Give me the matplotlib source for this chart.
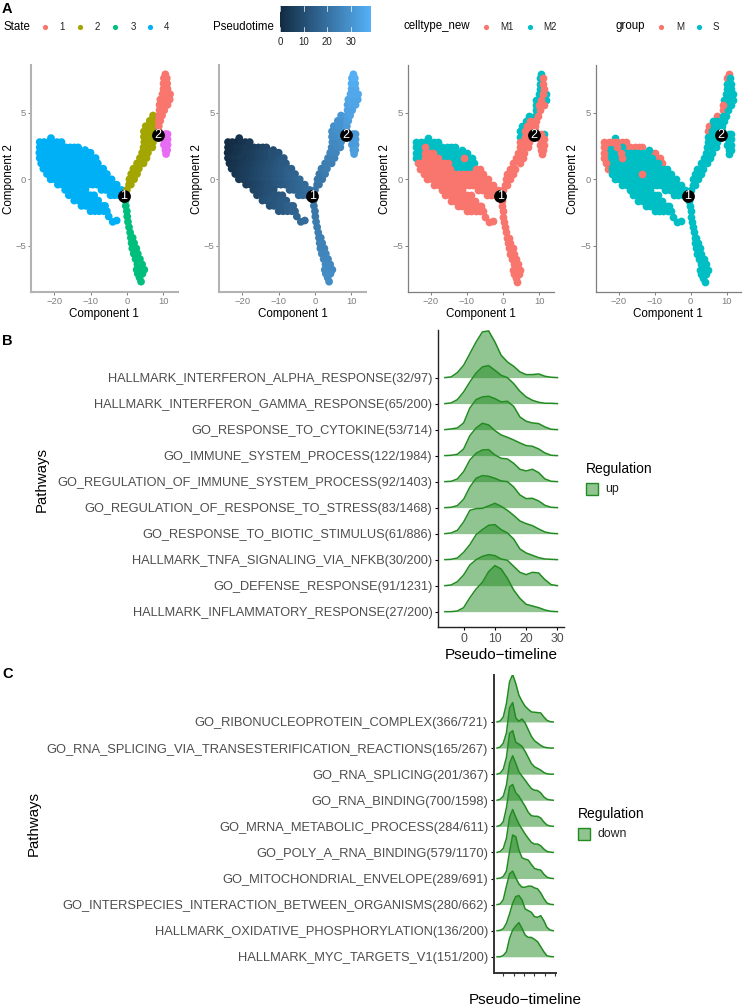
import numpy as np
import matplotlib
matplotlib.use("Agg")
import matplotlib.pyplot as plt
from matplotlib.colors import LinearSegmentedColormap
from matplotlib.patches import Rectangle

plt.rcParams['font.family'] = ['Liberation Sans', 'DejaVu Sans']

W, H = 743, 1007

# ---- trajectory cells, one list per state, written row by row
# cell: 0 = M1, 1 = M2.  group: 0 = M (under S), 1 = S, 2 = M (over S)
comp1_s4 = [-20.9,
    -24, -22.8, -21.6, -20.4, -19.2, -18,
    -24, -22.8, -21.6, -20.4, -19.2, -18, -16.8, -15.6, -14.4, -13.4, -11.5,
    -24.1, -22.9, -21.7, -20.5, -19.3, -18.1, -16.9, -15.7, -14.5, -13.3, -12.1, -10.9, -10,
    -24, -22.8, -21.6, -20.4, -19.2, -18, -16.8, -15.6, -14.4, -13.2, -12, -10.8, -9.6, -8.6,
    -23.6, -22.4, -21.2, -20, -18.8, -17.6, -16.4, -15.2, -14, -12.8, -11.6, -10.4, -9.2, -8,
    -23, -21.8, -20.6, -19.4, -18.2, -17, -15.8, -14.6, -13.4, -12.2, -11, -9.8, -8.6, -7.4, -6.5,
    -22, -20.8, -19.6, -18.4, -17.2, -16, -14.8, -13.6, -12.4, -11.2, -10, -8.8, -7.6, -6.4, -5.5,
    -21, -19.8, -18.6, -17.4, -16.2, -15, -13.8, -12.6, -11.4, -10.2, -9, -7.8, -6.6, -5.4, -4.2,
    -19, -17.8, -16.6, -15.4, -14.2, -13, -11.8, -10.6, -9.4, -8.2, -7, -5.8, -4.6, -3.6, -2.8,
    -17, -15.8, -14.6, -13.4, -12.2, -11.4, -7, -5.8, -4.6, -3.4, -2.2, -1.5,
    -16, -14.8, -13.6, -12.4, -11.2, -10, -9, -4.5, -3.4, -2.2, -1.2,
    -14.5, -13.3, -12.1, -10.9, -9.7, -8.5, -7.9,
    -12.5, -11.3, -10.1, -8.9, -7.7, -6.5, -6,
    -10, -8.8, -7.6, -6.4, -5.5,
    -5, -3.9, -2.8]
comp2_s4 = [3.1,
    2.8, 2.8, 2.8, 2.8, 2.8, 2.8,
    2.4, 2.4, 2.4, 2.4, 2.4, 2.4, 2.4, 2.4, 2.4, 2.4, 2.2,
    2, 2, 2, 2, 2, 2, 2, 2, 2, 2, 2, 2, 2,
    1.6, 1.6, 1.6, 1.6, 1.6, 1.6, 1.6, 1.6, 1.6, 1.6, 1.6, 1.6, 1.6, 1.6,
    1.2, 1.2, 1.2, 1.2, 1.2, 1.2, 1.2, 1.2, 1.2, 1.2, 1.2, 1.2, 1.2, 1.2,
    .8, .8, .8, .8, .8, .8, .8, .8, .8, .8, .8, .8, .8, .8, .8,
    .4, .4, .4, .4, .4, .4, .4, .4, .4, .4, .4, .4, .4, .4, .4,
    0, 0, 0, 0, 0, 0, 0, 0, 0, 0, 0, 0, 0, 0, 0,
    -.4, -.4, -.4, -.4, -.4, -.4, -.4, -.4, -.4, -.4, -.4, -.4, -.4, -.4, -.4,
    -.8, -.8, -.8, -.8, -.8, -.8, -.8, -.8, -.8, -.8, -.8, -.8,
    -1.2, -1.2, -1.2, -1.2, -1.2, -1.2, -1.2, -1.2, -1.2, -1.2, -1.2,
    -1.6, -1.6, -1.6, -1.6, -1.6, -1.6, -1.6,
    -2, -2, -2, -2, -2, -2, -2,
    -2.4, -2.4, -2.4, -2.4, -2.4,
    -2.8, -3.2, -3.1]
time_s4 = [2,
    0, 1, 1, 2, 3, 4,
    0, 1, 2, 3, 4, 4, 5, 6, 7, 8, 9,
    0, 1, 2, 3, 4, 5, 6, 7, 8, 9, 10, 10, 11,
    1, 2, 3, 4, 4, 5, 6, 7, 8, 9, 10, 11, 12, 13,
    1, 2, 3, 4, 5, 6, 7, 8, 9, 10, 11, 12, 13, 14,
    2, 3, 4, 5, 6, 7, 8, 9, 10, 11, 12, 13, 14, 15, 15,
    3, 4, 5, 6, 7, 8, 9, 10, 11, 12, 13, 14, 15, 16, 16,
    4, 5, 6, 7, 8, 9, 10, 11, 12, 13, 14, 15, 16, 17, 18,
    5, 6, 7, 8, 9, 10, 11, 12, 13, 14, 15, 16, 17, 18, 18,
    7, 8, 9, 10, 11, 11, 15, 16, 17, 18, 19, 19,
    8, 9, 10, 11, 12, 12, 13, 17, 18, 19, 20,
    10, 11, 12, 12, 13, 14, 14,
    11, 12, 13, 14, 15, 15, 16,
    13, 14, 15, 16, 16,
    17, 18, 19]
cell_s4 = [1,
    1, 1, 1, 1, 1, 1,
    1, 1, 0, 1, 1, 1, 1, 1, 1, 1, 1,
    1, 1, 0, 0, 0, 1, 1, 1, 1, 1, 1, 1, 1,
    1, 1, 0, 0, 0, 0, 1, 1, 1, 1, 1, 0, 1, 1,
    0, 0, 0, 0, 0, 0, 0, 0, 1, 1, 1, 1, 1, 1,
    0, 0, 0, 0, 0, 0, 0, 0, 1, 1, 1, 1, 1, 0, 0,
    0, 0, 0, 0, 0, 0, 0, 0, 0, 0, 0, 0, 0, 0, 0,
    0, 0, 0, 0, 0, 0, 0, 0, 0, 0, 0, 0, 0, 0, 0,
    0, 0, 0, 0, 0, 0, 0, 0, 0, 0, 0, 0, 0, 0, 0,
    0, 0, 0, 0, 0, 0, 0, 0, 0, 0, 0, 0,
    0, 0, 0, 0, 0, 0, 0, 0, 0, 0, 0,
    0, 0, 0, 0, 0, 0, 0,
    0, 0, 0, 0, 0, 0, 0,
    0, 0, 0, 0, 0,
    0, 0, 0]
group_s4 = [1,
    2, 2, 2, 2, 0, 0,
    2, 1, 1, 2, 1, 0, 0, 0, 0, 0, 1,
    2, 1, 1, 1, 2, 1, 1, 1, 1, 1, 1, 0, 0,
    2, 1, 1, 1, 2, 1, 1, 1, 1, 1, 1, 1, 0, 0,
    2, 1, 1, 1, 1, 1, 1, 1, 1, 1, 1, 1, 1, 0,
    0, 1, 1, 1, 1, 1, 1, 1, 1, 1, 1, 1, 1, 1, 1,
    1, 1, 1, 1, 1, 1, 1, 2, 1, 1, 1, 1, 1, 1, 1,
    1, 1, 1, 1, 1, 1, 1, 1, 1, 1, 1, 1, 1, 1, 1,
    1, 1, 1, 1, 1, 1, 1, 1, 1, 1, 1, 1, 1, 1, 1,
    1, 1, 1, 1, 1, 1, 1, 1, 1, 1, 1, 1,
    1, 1, 1, 1, 1, 1, 1, 1, 1, 1, 1,
    1, 1, 1, 1, 1, 1, 1,
    1, 1, 1, 1, 1, 1, 1,
    1, 1, 1, 1, 1,
    1, 1, 1]

comp1_s2 = [0, .6, 1.1, .7, 2, 1.2, 2.8, 1.8, 3.3, 2.8, 4.6, 3.6, 5.4, 4.2, 5.8, 4.6, 6, 7, 4.8, 6, 7.2,
            4.7, 6, 7.3, 4.7, 6, 7.3, 5.2, 6.5, 7.3, 6.3, 7.4, 7.2]
comp2_s2 = [-.8, -.4, -.4, 0, 0, .4, .4, .8, .8, 1.2, 1.2, 1.6, 1.6, 2, 2, 2.4, 2.4, 2.4, 2.8, 2.8, 2.8,
            3.2, 3.2, 3.2, 3.6, 3.6, 3.6, 4, 4, 4, 4.4, 4.4, 4.8]
time_s2 = [21, 21, 21, 22, 22, 22, 23, 23, 24, 24, 24, 25, 25, 26, 26, 26, 27, 27, 27, 27, 28,
           28, 28, 29, 28, 29, 29, 29, 30, 30, 30, 30, 31]
cell_s2 = [0, 0, 0, 0, 0, 0, 0, 0, 0, 0, 0, 0, 0, 0, 0, 0, 0, 0, 0, 0, 0,
           1, 0, 0, 1, 0, 0, 1, 0, 0, 1, 0, 1]
group_s2 = [1, 1, 1, 1, 1, 1, 1, 1, 1, 1, 1, 1, 1, 1, 1, 1, 1, 1, 1, 1, 1,
            1, 1, 1, 0, 1, 1, 0, 1, 1, 1, 1, 0]

comp1_s1 = [8.8, 8.8, 8.8, 9.2, 8.9, 9.7, 9, 10.3, 9, 10, 11.2, 9.2, 10.4, 11.8, 9.8, 11, 11.9,
            10.1, 11.2, 10.1, 11.1, 10.2, 11, 10.6]
comp2_s1 = [3.6, 4, 4.4, 4.4, 4.8, 4.8, 5.2, 5.2, 5.6, 5.6, 5.6, 6, 6, 6, 6.4, 6.4, 6.4,
            6.8, 6.8, 7.2, 7.2, 7.6, 7.6, 7.9]
time_s1 = [32, 32, 33, 33, 33, 34, 34, 34, 34, 35, 35, 35, 35, 35, 36, 36, 36,
           36, 36, 37, 37, 37, 38, 38]
cell_s1 = [0, 0, 0, 0, 1, 0, 1, 0, 1, 0, 0, 1, 0, 1, 1, 0, 1,
           1, 0, 1, 0, 1, 0, 1]
group_s1 = [1, 1, 1, 1, 1, 1, 0, 1, 2, 1, 1, 1, 1, 1, 1, 1, 1,
            1, 1, 1, 1, 0, 1, 0]

comp1_s5 = [10.6, 11.2, 10.3, 11.2, 10.2, 11.2, 10.6, 11.1, 10.8]
comp2_s5 = [3.4, 3.4, 3, 3, 2.6, 2.6, 2.2, 2.2, 1.9]
time_s5 = [31, 31, 31, 32, 32, 32, 32, 33, 33]
cell_s5 = [0, 1, 0, 0, 0, 0, 0, 0, 0]
group_s5 = [1, 1, 1, 1, 1, 1, 1, 1, 1]

comp1_s3 = [-.4, -.3, 0, .1, .3, .6, .9, 1.1, 1.6, 1.3, 2, 1.5, 2.6, 1.9, 3, 2.4, 3.6, 2.9, 4.2,
            2.7, 3.8, 4.8, 3, 4.3, 3.5, 3.9]
comp2_s3 = [-1.6, -2, -2.4, -2.8, -3.2, -3.6, -4, -4.4, -4.4, -4.8, -4.8, -5.2, -5.2, -5.6, -5.6,
            -6, -6, -6.4, -6.4, -6.8, -6.8, -6.8, -7.1, -7.1, -7.4, -7.7]
time_s3 = [21, 21, 22, 22, 23, 23, 24, 24, 24, 25, 25, 25, 25, 26, 26, 26, 26, 27, 27,
           27, 27, 27, 28, 28, 28, 28]
cell_s3 = [0] * 26
group_s3 = [1, 1, 1, 1, 1, 1, 1, 1, 1, 1, 1, 1, 1, 1, 1, 1, 1, 1, 1, 1, 1, 1, 1, 1, 1, 1]

state_names = ['1', '2', '3', '4']
state_colors = {'1': '#F8766D', '2': '#A3A500', '3': '#00BF7D', '4': '#00B0F6', '5': '#E76BF3'}
celltype_names = ['M1', 'M2']
group_names = ['M', 'S']
time_ticks = [0, 10, 20, 30]
time_max = 38.6
node_names = ['1', '2']
node_comp1 = [-0.8, 8.5]
node_comp2 = [-1.23, 3.33]

# ---- ridge panels
pathways_up = ['HALLMARK_INTERFERON_ALPHA_RESPONSE(32/97)', 'HALLMARK_INTERFERON_GAMMA_RESPONSE(65/200)',
               'GO_RESPONSE_TO_CYTOKINE(53/714)', 'GO_IMMUNE_SYSTEM_PROCESS(122/1984)',
               'GO_REGULATION_OF_IMMUNE_SYSTEM_PROCESS(92/1403)', 'GO_REGULATION_OF_RESPONSE_TO_STRESS(83/1468)',
               'GO_RESPONSE_TO_BIOTIC_STIMULUS(61/886)', 'HALLMARK_TNFA_SIGNALING_VIA_NFKB(30/200)',
               'GO_DEFENSE_RESPONSE(91/1231)', 'HALLMARK_INFLAMMATORY_RESPONSE(27/200)']
time_up = [-6, -4, -2, 0, 2, 4, 6, 8, 10, 12, 14, 16, 18, 20, 22, 24, 26, 28, 30]
density_up = [
    [0, 2, 15, 37, 72, 107, 137, 140, 107, 67, 47, 34, 17, 9, 9, 11, 4, 1, 0],
    [0, 2, 12, 35, 65, 92, 110, 114, 100, 85, 78, 60, 37, 20, 10, 4, 1, 1, 0],
    [0, 2, 5, 20, 65, 90, 98, 100, 93, 83, 85, 70, 38, 25, 20, 18, 8, 1, 0],
    [0, 1, 4, 20, 60, 83, 97, 92, 75, 62, 55, 47, 38, 30, 28, 20, 8, 1, 0],
    [0, 1, 8, 30, 65, 85, 95, 96, 80, 70, 68, 55, 37, 32, 37, 27, 8, 1, 0],
    [0, 1, 6, 25, 62, 88, 96, 94, 88, 80, 78, 62, 38, 27, 28, 20, 7, 1, 0],
    [0, 2, 10, 35, 70, 75, 76, 83, 91, 82, 70, 55, 38, 30, 24, 14, 5, 1, 0],
    [0, 1, 5, 22, 45, 75, 90, 103, 105, 90, 80, 62, 32, 20, 13, 6, 2, 1, 0],
    [0, 2, 12, 32, 62, 78, 88, 93, 90, 80, 76, 58, 40, 33, 40, 38, 18, 3, 0],
    [0, 0, 2, 12, 42, 68, 88, 120, 138, 128, 100, 65, 40, 22, 17, 12, 5, 1, 0],
]
pathways_down = ['GO_RIBONUCLEOPROTEIN_COMPLEX(366/721)', 'GO_RNA_SPLICING_VIA_TRANSESTERIFICATION_REACTIONS(165/267)',
                 'GO_RNA_SPLICING(201/367)', 'GO_RNA_BINDING(700/1598)', 'GO_MRNA_METABOLIC_PROCESS(284/611)',
                 'GO_POLY_A_RNA_BINDING(579/1170)', 'GO_MITOCHONDRIAL_ENVELOPE(289/691)',
                 'GO_INTERSPECIES_INTERACTION_BETWEEN_ORGANISMS(280/662)', 'HALLMARK_OXIDATIVE_PHOSPHORYLATION(136/200)',
                 'HALLMARK_MYC_TARGETS_V1(151/200)']
time_down = [-6, -3, 0, 3, 6, 9, 12, 15, 18, 21, 24, 27, 30, 33, 36, 39, 42, 45, 48]
density_down = [
    [0, 3, 15, 55, 120, 142, 115, 80, 62, 47, 38, 30, 29, 28, 27, 15, 5, 1, 0],
    [0, 3, 15, 45, 120, 136, 90, 80, 87, 75, 55, 35, 22, 15, 8, 3, 1, 0, 0],
    [0, 3, 15, 50, 122, 130, 95, 90, 83, 68, 50, 32, 22, 17, 12, 5, 1, 0, 0],
    [0, 3, 12, 45, 110, 133, 110, 85, 72, 60, 47, 35, 30, 29, 22, 10, 3, 1, 0],
    [0, 3, 14, 55, 118, 125, 100, 90, 75, 60, 42, 32, 30, 30, 25, 13, 4, 1, 0],
    [0, 3, 12, 42, 105, 128, 105, 85, 70, 55, 42, 30, 25, 25, 20, 10, 3, 1, 0],
    [0, 1, 6, 22, 80, 130, 125, 85, 62, 58, 55, 42, 30, 27, 25, 13, 4, 1, 0],
    [0, 2, 15, 55, 92, 100, 80, 62, 52, 52, 55, 55, 50, 47, 35, 18, 5, 1, 0],
    [0, 1, 6, 22, 50, 82, 102, 105, 92, 65, 60, 55, 42, 40, 45, 30, 10, 2, 0],
    [0, 0, 4, 15, 55, 80, 92, 102, 85, 65, 58, 58, 52, 45, 30, 15, 3, 1, 0],
]
up_ticks = [0, 10, 20, 30]
down_ticks = [0, 10, 20, 30, 40, 50]

comp1 = np.array(comp1_s4 + comp1_s2 + comp1_s1 + comp1_s5 + comp1_s3)
comp2 = np.array(comp2_s4 + comp2_s2 + comp2_s1 + comp2_s5 + comp2_s3)
pseudotime = np.array(time_s4 + time_s2 + time_s1 + time_s5 + time_s3)
cell = np.array(cell_s4 + cell_s2 + cell_s1 + cell_s5 + cell_s3)
group = np.array(group_s4 + group_s2 + group_s1 + group_s5 + group_s3)
state = np.array(['4'] * len(comp1_s4) + ['2'] * len(comp1_s2) + ['1'] * len(comp1_s1)
                 + ['5'] * len(comp1_s5) + ['3'] * len(comp1_s3))

RED, TEAL = '#F8766D', '#00BFC4'
GREEN = '#228B22'
time_cmap = LinearSegmentedColormap.from_list('pt', ['#132B43', '#56B1F7'])
DOT = 31

fig = plt.figure(figsize=(W / 100, H / 100), dpi=100)


def px_axes(left, top, right, bottom, **kw):
    return fig.add_axes([left / W, 1 - bottom / H, (right - left) / W, (bottom - top) / H], **kw)


def style_traj(ax, spine_col, spine_w):
    ax.set_xlim(-26.4, 14)
    ax.set_ylim(-8.5, 8.6)
    ax.set_xticks([-20, -10, 0, 10])
    ax.set_yticks([-5, 0, 5])
    ax.set_xticklabels(['\u221220', '\u221210', '0', '10'])
    ax.set_yticklabels(['\u22125', '0', '5'])
    ax.tick_params(labelsize=6.8, labelcolor='#7f7f7f', color='#7f7f7f', length=2, width=0.7, pad=1.5)
    for s in ['top', 'right']:
        ax.spines[s].set_visible(False)
    for s in ['left', 'bottom']:
        ax.spines[s].set_color(spine_col)
        ax.spines[s].set_linewidth(spine_w)
    ax.set_xlabel('Component 1', fontsize=8.4, labelpad=1.5)
    ax.set_ylabel('Component 2', fontsize=8.4, labelpad=0.5)
    ax.scatter(node_comp1, node_comp2, s=85, color='black', linewidths=0, zorder=5)
    for nx, ny, name in zip(node_comp1, node_comp2, node_names):
        ax.text(nx, ny, name, color='white', fontsize=9, ha='center', va='center', zorder=6)


# trajectory panels
ax1 = px_axes(31, 65, 177.7, 292.3)
ax1.scatter(comp1, comp2, s=DOT, c=[state_colors[s] for s in state], linewidths=0)
style_traj(ax1, '#b3b3b3', 1.5)

ax2 = px_axes(219.3, 65, 365.7, 292.3)
ax2.scatter(comp1, comp2, s=DOT, c=pseudotime, cmap=time_cmap, vmin=0, vmax=time_max, linewidths=0)
style_traj(ax2, '#b3b3b3', 1.5)

ax3 = px_axes(407.7, 65, 553.7, 292.3)
ax3.scatter(comp1[cell == 1], comp2[cell == 1], s=DOT, color=TEAL, linewidths=0)
ax3.scatter(comp1[cell == 0], comp2[cell == 0], s=DOT, color=RED, linewidths=0)
style_traj(ax3, '#7f7f7f', 0.9)

ax4 = px_axes(595.7, 65, 741, 292.3)
ax4.scatter(comp1[group == 0], comp2[group == 0], s=DOT, color=RED, linewidths=0)
ax4.scatter(comp1[group == 1], comp2[group == 1], s=DOT, color=TEAL, linewidths=0)
ax4.scatter(comp1[group == 2], comp2[group == 2], s=DOT, color=RED, linewidths=0)
style_traj(ax4, '#7f7f7f', 0.9)


def ridges(ax, x, dens, labels, ticks, show_ticklabels):
    n = len(dens)
    for i, (h, lab) in enumerate(zip(dens, labels)):
        base = n - 1 - i
        top = base + np.array(h) / 78.0
        ax.fill_between(x, base, top, color=GREEN, alpha=0.5, linewidth=0, zorder=2 + i)
        ax.plot(x, top, color=GREEN, lw=1.1, zorder=2 + i, solid_joinstyle='round')
    ax.set_yticks(list(range(n - 1, -1, -1)))
    ax.set_yticklabels(labels)
    ax.set_xticks(ticks)
    if not show_ticklabels:
        ax.set_xticklabels([])
    for s in ['top', 'right']:
        ax.spines[s].set_visible(False)


axb = px_axes(438.3, 330, 564, 627)
ridges(axb, time_up, density_up, pathways_up, up_ticks, True)
axb.set_xlim(-8.1, 32.1)
axb.set_ylim(-0.59, 10.83)
axb.tick_params(axis='y', labelsize=9.2, labelcolor='#4d4d4d', length=2, width=0.8, pad=2.2)
axb.tick_params(axis='x', labelsize=8.8, labelcolor='#4d4d4d', length=2.5, width=0.8, pad=2)
for s in ['left', 'bottom']:
    axb.spines[s].set_linewidth(1.0)
    axb.spines[s].set_color('#222222')

axc = px_axes(494, 675, 556, 972.7)
ridges(axc, time_down, density_down, pathways_down, down_ticks, False)
axc.set_xlim(-8.96, 50.7)
axc.set_ylim(-0.61, 10.8)
axc.tick_params(axis='y', labelsize=9.3, labelcolor='#4d4d4d', length=2, width=0.8, pad=2.2)
axc.tick_params(axis='x', length=2.5, width=0.8, color='#333333')
for s in ['left', 'bottom']:
    axc.spines[s].set_linewidth(1.4)
    axc.spines[s].set_color('#333333')

# overlay in image pixels for the legends and free-standing titles
ov = fig.add_axes([0, 0, 1, 1], facecolor='none', zorder=20)
ov.set_xlim(0, W)
ov.set_ylim(H, 0)
ov.axis('off')

for lab, yy in [('A', 9), ('B', 341), ('C', 674)]:
    ov.text(2, yy, lab, fontsize=10.5, fontweight='bold', va='center')


def dot_legend(title, tx, names, colors, dots, labs):
    ov.text(tx, 26.5, title, fontsize=8.3, va='center')
    for name, col, dx, lx in zip(names, colors, dots, labs):
        ov.scatter([dx], [26.5], s=14, color=col, linewidths=0)
        ov.text(lx, 26.5, name, fontsize=7, va='center', ha='center', color='#222222')


dot_legend('State', 3, state_names, [state_colors[s] for s in state_names],
           [45, 80, 115, 150], [62, 97, 133, 167])
dot_legend('celltype_new', 403.7, celltype_names, [RED, TEAL], [486, 529.7], [507, 550])
dot_legend('group', 616, group_names, [RED, TEAL], [661, 699], [680, 715.5])

ov.text(213, 26.5, 'Pseudotime', fontsize=8.3, va='center')
cbar = px_axes(280, 6, 371, 32, zorder=21)
cbar.imshow(np.linspace(0, 1, 256).reshape(1, -1), cmap=time_cmap, aspect='auto',
            extent=[0, time_max, 0, 1])
cbar.set_yticks([])
cbar.set_xticks(time_ticks)
cbar.set_xticklabels([str(t) for t in time_ticks])
cbar.tick_params(axis='x', labelsize=7, labelcolor='#222222', length=0, pad=3.5)
for s in cbar.spines.values():
    s.set_visible(False)
for t in time_ticks:
    cbar.plot([t, t], [0, 0.2], color='white', lw=0.5)
    cbar.plot([t, t], [0.8, 1], color='white', lw=0.5)
cbar.set_xlim(0, time_max)
cbar.set_ylim(0, 1)

ov.text(42, 480, 'Pathways', fontsize=10.8, rotation=90, va='center', ha='center')
ov.text(34, 824, 'Pathways', fontsize=10.8, rotation=90, va='center', ha='center')
ov.text(501.7, 655, 'Pseudo\u2212timeline', fontsize=11, va='center', ha='center')
ov.text(525, 1000, 'Pseudo\u2212timeline', fontsize=11, va='center', ha='center')


def reg_legend(tx, ty, label):
    ov.text(tx, ty, 'Regulation', fontsize=10, va='center')
    ov.add_patch(Rectangle((tx + 0.5, ty + 14), 11.5, 11.5, facecolor=GREEN, alpha=0.5, lw=0))
    ov.add_patch(Rectangle((tx + 0.5, ty + 14), 11.5, 11.5, facecolor='none', edgecolor=GREEN, lw=1))
    ov.text(tx + 20, ty + 20, label, fontsize=8.8, va='center', color='#222222')


reg_legend(585.7, 469, 'up')
reg_legend(577.7, 814, 'down')

fig.savefig('out.png', dpi=100)
